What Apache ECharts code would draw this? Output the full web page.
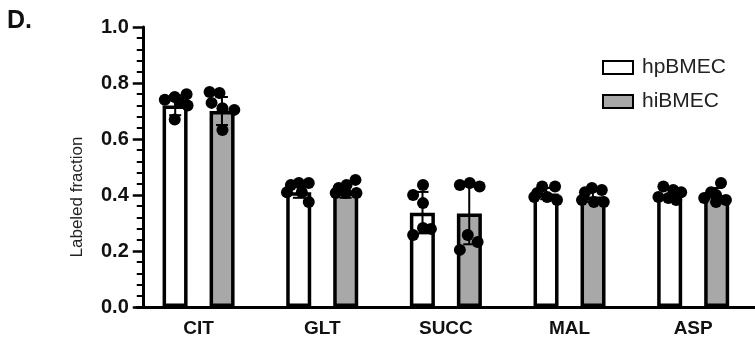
<!DOCTYPE html>
<html><head><meta charset="utf-8">
<script src="https://cdn.jsdelivr.net/npm/echarts@6/dist/echarts.min.js"></script>
<style>html,body{margin:0;padding:0;background:#fff}#c{width:755px;height:348px}</style>
</head><body><div id="c"></div>
<script>
const categories = ['CIT','GLT','SUCC','MAL','ASP'];
const yTicks = [0.0,0.2,0.4,0.6,0.8,1.0];
const seriesNames = ['hpBMEC','hiBMEC'];
const hpMean = [0.72,0.41,0.337,0.405,0.40];
const hiMean = [0.70,0.41,0.334,0.395,0.40];
const hpSD = [0.035,0.02,0.074,0.02,0.02];
const hiSD = [0.05,0.02,0.11,0.02,0.025];
const hpDots = [
  [0.74,0.75,0.76,0.72,0.67,0.73],
  [0.436,0.443,0.443,0.41,0.41,0.375],
  [0.436,0.40,0.371,0.282,0.279,0.257],
  [0.407,0.43,0.43,0.382,0.393,0.393],
  [0.43,0.418,0.41,0.393,0.389,0.382]
];
const hiDots = [
  [0.768,0.764,0.729,0.71,0.704,0.632],
  [0.425,0.436,0.454,0.407,0.407,0.407],
  [0.436,0.443,0.43,0.257,0.232,0.204],
  [0.41,0.425,0.418,0.382,0.375,0.375],
  [0.443,0.41,0.40,0.389,0.382,0.375]
];
// horizontal spread of dots within each bar, in category-width units
const hpJitter = [
  [-0.084,-0.004,0.092,0.1,-0.004,0.036],
  [-0.064,0,0.08,-0.096,0.024,0.08],
  [0.004,-0.076,0.004,0.004,0.068,-0.076],
  [-0.072,-0.032,0.072,0.088,0.008,-0.096],
  [-0.052,0.028,0.092,-0.092,-0.012,0.052]
];
const hiJitter = [
  [-0.1,-0.02,-0.084,0.004,0.1,0.004],
  [-0.056,0.008,0.08,-0.08,0,0.088],
  [-0.076,0.004,0.084,-0.012,0.068,-0.076],
  [-0.064,-0.008,0.072,-0.088,0.008,0.088],
  [0.036,-0.044,-0.004,-0.1,0.076,-0.004]
];

const GROUP_OFF = 0.189; // bar centre offset from category centre (category units)

function dotData(dots, jit, side){
  const out=[];
  dots.forEach((arr,i)=>arr.forEach((v,k)=>out.push([i+side*GROUP_OFF+jit[i][k], v])));
  return out;
}
function errData(mean, sd, side){
  return mean.map((m,i)=>[i+side*GROUP_OFF, m, sd[i]]);
}
function renderErr(params, api){
  const x=api.value(0), m=api.value(1), s=api.value(2);
  const top=api.coord([x,m+s]), bot=api.coord([x,m-s]);
  const cw=6;
  const st={stroke:'#000',lineWidth:2};
  return {type:'group',children:[
    {type:'line',shape:{x1:top[0],y1:top[1],x2:bot[0],y2:bot[1]},style:st},
    {type:'line',shape:{x1:top[0]-cw,y1:top[1],x2:top[0]+cw,y2:top[1]},style:st},
    {type:'line',shape:{x1:bot[0]-cw,y1:bot[1],x2:bot[0]+cw,y2:bot[1]},style:st}
  ]};
}

const chart = echarts.init(document.getElementById('c'), null, {renderer:'canvas'});
const FONT = 'Liberation Sans, Arial, sans-serif';
chart.setOption({
  animation:false,
  backgroundColor:'#fff',
  title:{text:'D.',left:7,top:9,padding:0,textStyle:{fontFamily:FONT,fontSize:25,fontWeight:'bold',color:'#111'}},
  legend:{
    data:seriesNames, orient:'vertical', left:597, top:52, itemWidth:30, itemHeight:13, itemGap:13,
    icon:'rect',
    textStyle:{fontFamily:FONT,fontSize:21,color:'#222',padding:[0,0,0,4]}
  },
  grid:{left:136.75,width:622.5,top:27,bottom:41,containLabel:false},
  xAxis:[
    {type:'category',data:categories,
     axisLine:{lineStyle:{color:'#000',width:3}},
     axisTick:{alignWithLabel:true,length:10,lineStyle:{color:'#000',width:3}},
     axisLabel:{fontFamily:FONT,fontSize:19,fontWeight:'bold',color:'#111',margin:12}},
    {type:'value',min:-0.5,max:4.5,show:false}
  ],
  yAxis:{type:'value',min:0,max:1,interval:0.2,offset:-6,
    name:'Labeled fraction',nameLocation:'middle',nameGap:57,
    nameTextStyle:{fontFamily:FONT,fontSize:17,color:'#222',padding:[0,60,0,0]},
    axisLine:{show:true,onZero:false,lineStyle:{color:'#000',width:3}},
    axisTick:{show:true,length:10,lineStyle:{color:'#000',width:2.5}},
    minorTick:{show:true,splitNumber:5,length:6,lineStyle:{color:'#000',width:2}},
    splitLine:{show:false},
    axisLabel:{fontFamily:FONT,fontSize:20,fontWeight:'bold',color:'#111',margin:14,
      formatter:v=>{const t=yTicks.find(x=>Math.abs(x-v)<1e-9);return (t===undefined?v:t).toFixed(1);}}
  },
  series:[
    {name:'hpBMEC',type:'bar',data:hpMean,barWidth:25,barGap:'88%',
     itemStyle:{color:'#ffffff',borderColor:'#000',borderWidth:3.5},z:2},
    {name:'hiBMEC',type:'bar',data:hiMean,barWidth:25,barGap:'88%',
     itemStyle:{color:'#a8a8a8',borderColor:'#000',borderWidth:3.5},z:2},
    {type:'custom',xAxisIndex:1,data:errData(hpMean,hpSD,-1),renderItem:renderErr,z:3},
    {type:'custom',xAxisIndex:1,data:errData(hiMean,hiSD,1),renderItem:renderErr,z:3},
    {type:'scatter',xAxisIndex:1,data:dotData(hpDots,hpJitter,-1),symbolSize:12,
     itemStyle:{color:'#000',opacity:1},z:4},
    {type:'scatter',xAxisIndex:1,data:dotData(hiDots,hiJitter,1),symbolSize:12,
     itemStyle:{color:'#000',opacity:1},z:4}
  ]
});
</script></body></html>
